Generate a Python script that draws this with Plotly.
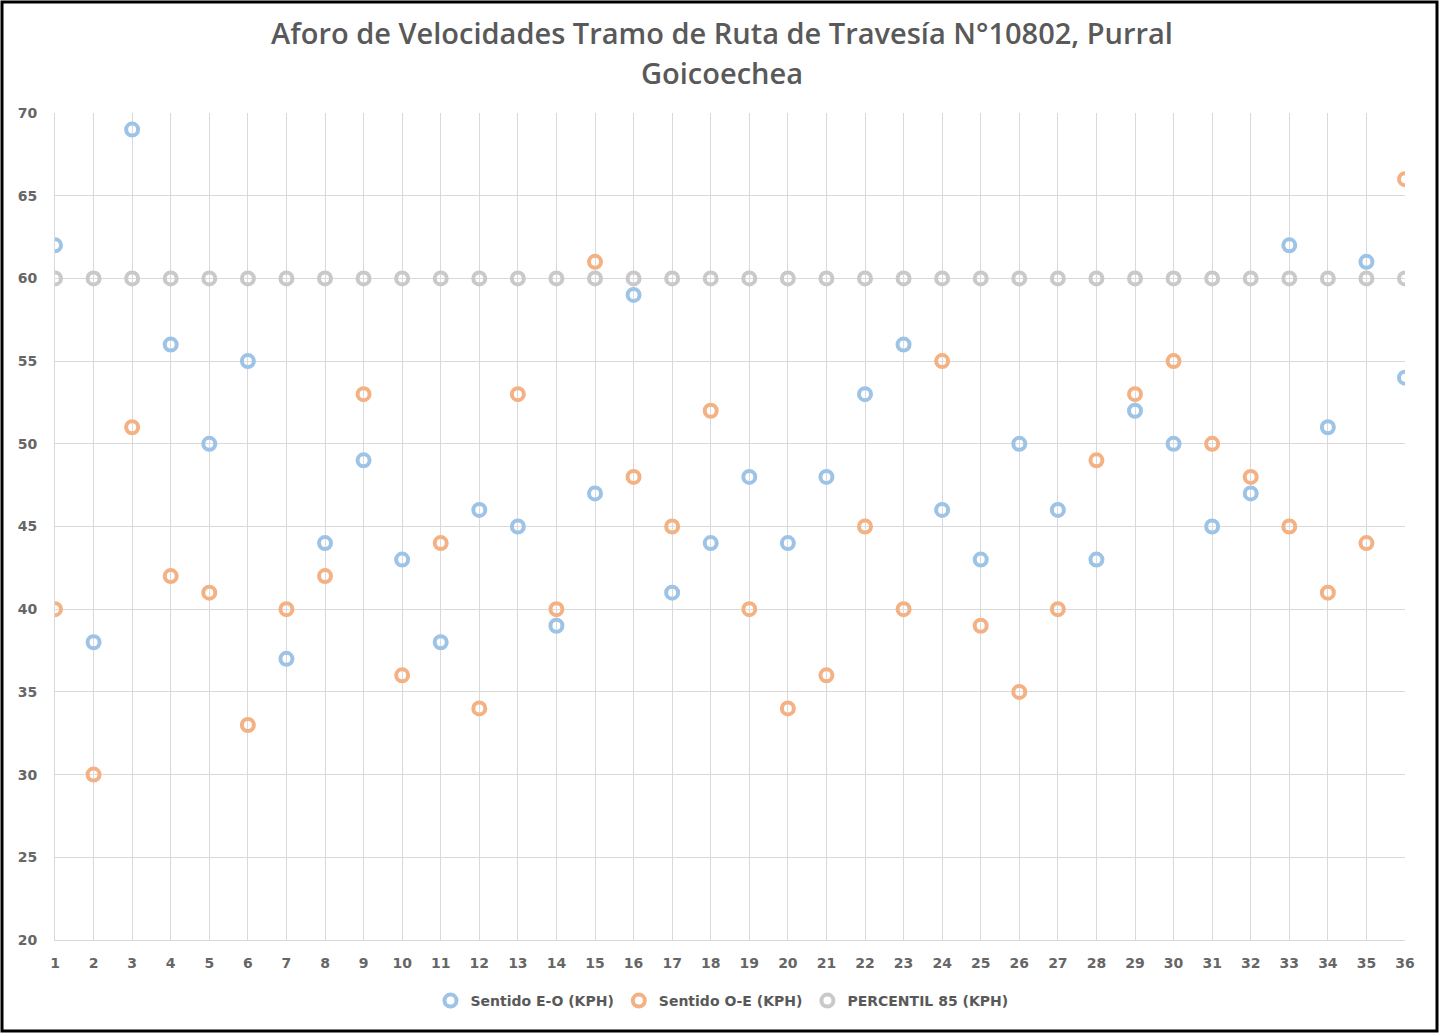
import plotly.graph_objects as go

puntos = list(range(1, 37))
sentido_eo = [62, 38, 69, 56, 50, 55, 37, 44, 49, 43, 38, 46, 45, 39, 47, 59, 41, 44,
              48, 44, 48, 53, 56, 46, 43, 50, 46, 43, 52, 50, 45, 47, 62, 51, 61, 54]
sentido_oe = [40, 30, 51, 42, 41, 33, 40, 42, 53, 36, 44, 34, 53, 40, 61, 48, 45, 52,
              40, 34, 36, 45, 40, 55, 39, 35, 40, 49, 53, 55, 50, 48, 45, 41, 44, 66]
percentil_85 = [60] * 36

series = [
    ("Sentido E-O (KPH)", sentido_eo, "#9DC3E6"),
    ("Sentido O-E (KPH)", sentido_oe, "#F4B183"),
    ("PERCENTIL 85 (KPH)", percentil_85, "#C9C9C9"),
]

FONT = "DejaVu Sans"
TFONT = "Open Sans"

fig = go.Figure()
for name, vals, col in series:
    fig.add_trace(go.Scatter(
        x=puntos, y=vals, mode="markers", name=name,
        marker=dict(symbol="circle-open", size=12, color=col, line=dict(width=4, color=col)),
    ))

L, R, T, B = 55, 35, 113, 96
W, H = 1440, 1036
pw, ph = W - L - R, H - T - B

def px(x):
    return (x - L) / pw

def py(y):
    return (H - B - y) / ph

fig.add_shape(type="rect", xref="paper", yref="paper",
              x0=px(2), x1=px(1437), y0=py(1031), y1=py(2),
              line=dict(color="black", width=3), fillcolor="rgba(0,0,0,0)")

fig.add_annotation(text="Goicoechea", xref="paper", yref="paper",
                   x=px(722), y=py(72), xanchor="center", yanchor="middle",
                   showarrow=False,
                   font=dict(family=TFONT, size=29, color="#595959", weight=600))

fig.update_layout(
    width=W, height=H,
    margin=dict(l=L, r=R, t=T, b=B),
    paper_bgcolor="white", plot_bgcolor="white",
    font=dict(family=FONT, color="#666666", size=13),
    title=dict(
        text="Aforo de Velocidades Tramo de Ruta de Travesía N°10802, Purral",
        x=722 / W, xanchor="center", y=1 - 34 / H, yanchor="middle",
        font=dict(family=TFONT, size=29, color="#595959", weight=600),
    ),
    showlegend=True,
    legend=dict(orientation="h", x=px(722), xanchor="center", y=py(1001), yanchor="middle",
                font=dict(family=FONT, size=14, color="#595959", weight="bold"), itemwidth=30),
    xaxis=dict(range=[1, 36], tickmode="linear", tick0=1, dtick=1, showgrid=True,
               gridcolor="#D9D9D9", gridwidth=1, zeroline=False, showline=True,
               linecolor="#D9D9D9", ticks="", ticklabelstandoff=10,
               tickfont=dict(family=FONT, size=14, color="#666666", weight="bold")),
    yaxis=dict(range=[20, 70], tickmode="linear", tick0=20, dtick=5, showgrid=True,
               gridcolor="#D9D9D9", gridwidth=1, zeroline=False, showline=True,
               linecolor="#D9D9D9", ticks="", ticklabelstandoff=14,
               tickfont=dict(family=FONT, size=14, color="#666666", weight="bold")),
)

fig.write_html("out.html", config={"displayModeBar": False},
               post_script="document.body.style.margin='0px';")
